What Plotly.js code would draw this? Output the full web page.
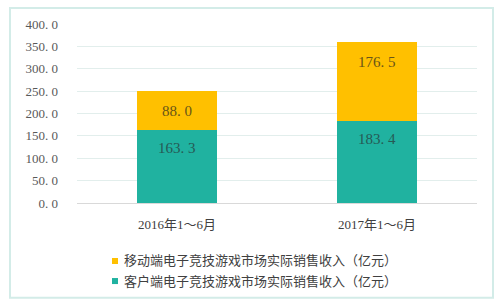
<!DOCTYPE html>
<html><head><meta charset="utf-8">
<script src="https://cdn.plot.ly/plotly-3.0.1.min.js"></script>
<style>html,body{margin:0;padding:0;background:#fff}#chart{width:500px;height:304px}</style>
</head><body><div id="chart"></div>
<script>
const categories = ['2016年1～6月', '2017年1～6月'];
const clientValues = [163.3, 183.4];
const mobileValues = [88.0, 176.5];
const clientName = '客户端电子竞技游戏市场实际销售收入（亿元）';
const mobileName = '移动端电子竞技游戏市场实际销售收入（亿元）';
const yTickVals = [0, 50, 100, 150, 200, 250, 300, 350, 400];

const fmt = v => v.toFixed(1).replace('.', '. ');
const FONT = '"Liberation Serif", "DejaVu Serif", "Noto Sans CJK SC", serif';
const TEAL = '#20b2a0', YELLOW = '#ffc000';

const traces = [
  {type:'bar', x:categories, y:clientValues, name:clientName, marker:{color:TEAL}, showlegend:false, hoverinfo:'none'},
  {type:'bar', x:categories, y:mobileValues, name:mobileName, marker:{color:YELLOW}, showlegend:false, hoverinfo:'none'}
];

const annotations = [];
categories.forEach((c, i) => {
  annotations.push({x:c, y:clientValues[i], xref:'x', yref:'y', text:fmt(clientValues[i]), showarrow:false,
    yanchor:'top', yshift:-8, font:{family:FONT, size:15, color:'#265a55'}});
  annotations.push({x:c, y:clientValues[i] + mobileValues[i], xref:'x', yref:'y', text:fmt(mobileValues[i]), showarrow:false,
    yanchor:'top', yshift:-10, font:{family:FONT, size:15, color:'#685518'}});
});

// manual legend (plot area: x 77..477 px, y 24..203 px)
const legendItems = [{name:mobileName, color:YELLOW}, {name:clientName, color:TEAL}];
const shapes = [{type:'rect', xref:'paper', yref:'paper', x0:-0.1675, x1:1.04, y0:-0.53, y1:1.089,
  line:{color:'#d3ece8', width:2}, layer:'below'}];
legendItems.forEach((it, k) => {
  const yc = -0.324 - k * 0.112;
  annotations.push({xref:'paper', yref:'paper', x:0.1125, y:yc, xanchor:'left', yanchor:'middle', showarrow:false,
    text:it.name, font:{family:FONT, size:13, color:'#404040'}});
  shapes.push({type:'rect', xref:'paper', yref:'paper', x0:0.0875, x1:0.1025, y0:yc - 0.0168, y1:yc + 0.0168,
    fillcolor:it.color, line:{width:0}});
});

const layout = {
  width:500, height:304,
  margin:{l:77, r:23, t:24, b:101},
  paper_bgcolor:'#fff', plot_bgcolor:'#fff',
  barmode:'stack', bargap:0.6, showlegend:false,
  font:{family:FONT, size:12, color:'#595959'},
  xaxis:{showgrid:false, showline:false, ticks:'', ticklabelstandoff:12, tickfont:{size:13, color:'#404040'}, fixedrange:true},
  yaxis:{range:[0, 400], tickvals:yTickVals, ticktext:yTickVals.map(fmt), gridcolor:'#e2eeec', gridwidth:1,
    zeroline:true, zerolinecolor:'#d9d9d9', zerolinewidth:1, ticks:'', ticklabelstandoff:18, tickfont:{size:13, color:'#595959'}, fixedrange:true},
  annotations:annotations,
  shapes:shapes
};
Plotly.newPlot('chart', traces, layout, {staticPlot:true});
</script></body></html>
